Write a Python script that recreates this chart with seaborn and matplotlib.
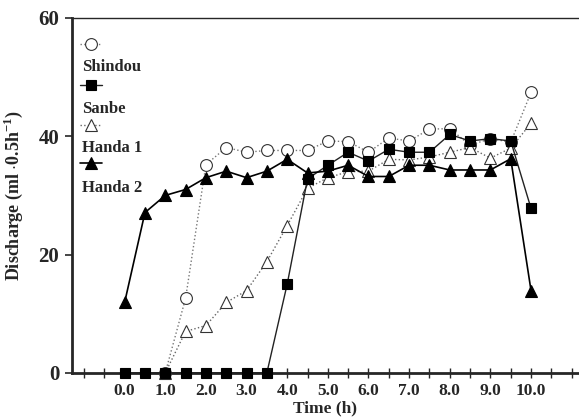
import matplotlib
matplotlib.use('Agg')
import matplotlib.pyplot as plt
import seaborn as sns
import pandas as pd

# time points (h)
t_full = [0.0, 0.5, 1.0, 1.5, 2.0, 2.5, 3.0, 3.5, 4.0, 4.5, 5.0,
          5.5, 6.0, 6.5, 7.0, 7.5, 8.0, 8.5, 9.0, 9.5, 10.0]
t_late = [1.0, 1.5, 2.0, 2.5, 3.0, 3.5, 4.0, 4.5, 5.0,
          5.5, 6.0, 6.5, 7.0, 7.5, 8.0, 8.5, 9.0, 9.5, 10.0]

# discharge values
shindou = [0, 12.6, 35.2, 38.1, 37.3, 37.6, 37.6, 37.6, 39.2,
           39.1, 37.3, 39.7, 39.2, 41.2, 41.3, 38.5, 39.6, 39.0, 47.4]
sanbe = [0, 0, 0, 0, 0, 0, 0, 0, 15.0, 32.8, 35.1,
         37.3, 35.8, 37.8, 37.3, 37.3, 40.3, 39.2, 39.6, 39.2, 27.8]
handa1 = [0, 7.0, 8.0, 11.9, 13.9, 18.8, 24.9, 31.2, 33.0,
          34.0, 34.1, 36.1, 36.0, 36.5, 37.3, 38.1, 36.3, 38.0, 42.2]
handa2 = [11.9, 27.1, 30.0, 31.0, 33.0, 34.1, 33.0, 34.1, 36.1, 33.8, 34.1,
          35.1, 33.2, 33.2, 35.1, 35.1, 34.3, 34.3, 34.3, 36.2, 13.9]

names = ['Shindou', 'Sanbe', 'Handa 1', 'Handa 2']

sns.set_style('ticks')
plt.rcParams['font.family'] = ['Liberation Serif', 'DejaVu Serif']
plt.rcParams['font.weight'] = 'bold'
plt.rcParams['mathtext.fontset'] = 'custom'
plt.rcParams['mathtext.rm'] = 'Liberation Serif:bold'
plt.rcParams['mathtext.bf'] = 'Liberation Serif:bold'

fig = plt.figure(figsize=(5.79, 4.18), dpi=100)
ax = fig.add_axes([0.124, 0.108, 0.876, 0.849])

styles = {
    'Shindou': dict(marker='o', ms=8.5, mfc='white', mec='#333333', mew=0.8,
                    color='#777777', ls=':', lw=1.0),
    'Sanbe': dict(marker='s', ms=7.5, mfc='black', mec='black', mew=0.8,
                  color='#222222', ls='-', lw=1.0),
    'Handa 1': dict(marker='^', ms=9, mfc='white', mec='#333333', mew=0.8,
                    color='#666666', ls=':', lw=1.0),
    'Handa 2': dict(marker='^', ms=9, mfc='black', mec='black', mew=0.8,
                    color='black', ls='-', lw=1.2),
}

df_s = pd.DataFrame({'t': t_late, 'v': shindou})
df_sa = pd.DataFrame({'t': t_full, 'v': sanbe})
df_h1 = pd.DataFrame({'t': t_late, 'v': handa1})
df_h2 = pd.DataFrame({'t': t_full, 'v': handa2})

for name, d, z in [('Shindou', df_s, 3), ('Handa 1', df_h1, 4),
                   ('Sanbe', df_sa, 5), ('Handa 2', df_h2, 6)]:
    st = styles[name]
    sns.lineplot(data=d, x='t', y='v', ax=ax, marker=st['marker'],
                 markersize=st['ms'], markerfacecolor=st['mfc'],
                 markeredgecolor=st['mec'], markeredgewidth=st['mew'],
                 color=st['color'], linestyle=st['ls'], linewidth=st['lw'],
                 zorder=z, clip_on=False)

# legend: marker above label
leg_marker_y = [0.927, 0.811, 0.699, 0.592]
leg_text_y = [0.862, 0.744, 0.634, 0.521]
for name, my, ty in zip(names, leg_marker_y, leg_text_y):
    st = styles[name]
    ax.plot([0.016, 0.037, 0.059], [my, my, my], transform=ax.transAxes,
            marker=st['marker'], markevery=[1], ms=st['ms'],
            mfc=st['mfc'], mec=st['mec'], mew=st['mew'],
            color=st['color'], ls=st['ls'], lw=st['lw'])
    ax.text(0.02, ty, name, transform=ax.transAxes, fontsize=12,
            fontweight='bold', va='center', ha='left')

ax.set_xlim(-1.3, 11.18)
ax.set_ylim(0, 60)
ax.set_xticks([-1.0 + 0.5 * i for i in range(25)], minor=True)
ax.set_xticks([0, 1, 2, 3, 4, 5, 6, 7, 8, 9, 10])
ax.set_xticklabels(['0.0', '1.0', '2.0', '3.0', '4.0', '5.0', '6.0',
                    '7.0', '8.0', '9.0', '10.0'])
ax.set_yticks([0, 20, 40, 60])
ax.tick_params(axis='x', which='both', direction='inout', length=7,
               width=1, labelsize=12.5, pad=4)
ax.tick_params(axis='y', direction='out', length=5, width=1.2,
               labelsize=15, pad=4)
for lab in ax.get_xticklabels() + ax.get_yticklabels():
    lab.set_fontweight('bold')

ax.spines['left'].set_linewidth(2)
ax.spines['bottom'].set_linewidth(2)
ax.spines['top'].set_linewidth(1)
ax.spines['right'].set_visible(False)

ax.set_xlabel('Time (h)', fontsize=12.5, fontweight='bold', labelpad=1)
ax.set_ylabel(r'Discharge (ml $\cdot$0.5h$^{-1}$)', fontsize=13,
              fontweight='bold')
ax.yaxis.set_label_coords(-0.092, 0.5)

fig.savefig('out.png', dpi=100)
